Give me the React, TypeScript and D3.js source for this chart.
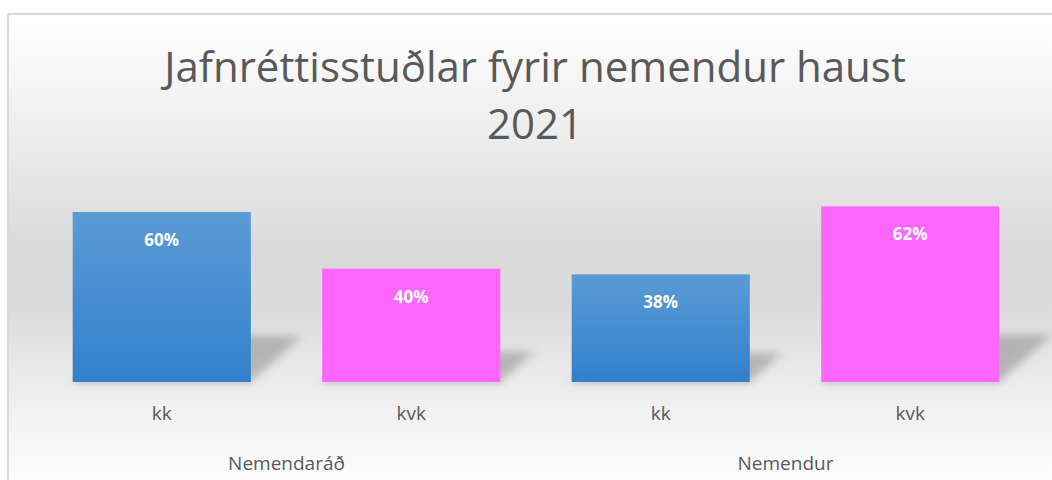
import { useEffect, useRef } from 'react';
import * as d3 from 'd3';

// chart data
const groups = ['Nemendaráð', 'Nemendur'];
const genders = ['kk', 'kvk'];
const values = [0.6, 0.4, 0.38, 0.62];
const titleLines = ['Jafnréttisstuðlar fyrir nemendur haust', '2021'];

const W = 1052;
const H = 480;

const App = () => {
    const ref = useRef<SVGSVGElement | null>(null);

    useEffect(() => {
        const svg = d3.select(ref.current);
        svg.selectAll('*').remove();

        const font = '"Open Sans", "Noto Sans", sans-serif';
        const defs = svg.append('defs');

        // chart area background
        const bg = defs.append('linearGradient')
            .attr('id', 'bg').attr('x1', 0).attr('y1', 0).attr('x2', 0).attr('y2', 1);
        [[0, '#ffffff'], [0.2, '#f1f1f1'], [0.5, '#d9d9d9'], [0.62, '#dcdcdc'], [0.8, '#efefef'], [1, '#ffffff']]
            .forEach(([o, c]) => bg.append('stop').attr('offset', o as number).attr('stop-color', c as string));

        const blue = defs.append('linearGradient')
            .attr('id', 'blue').attr('x1', 0).attr('y1', 0).attr('x2', 0).attr('y2', 1);
        blue.append('stop').attr('offset', 0).attr('stop-color', '#5b9bd6');
        blue.append('stop').attr('offset', 1).attr('stop-color', '#3280cb');

        defs.append('filter').attr('id', 'blur')
            .attr('x', -0.5).attr('y', -0.5).attr('width', 2).attr('height', 2)
            .append('feGaussianBlur').attr('stdDeviation', 4);

        svg.append('rect')
            .attr('x', 8).attr('y', 14).attr('width', W).attr('height', H)
            .attr('fill', 'url(#bg)')
            .attr('stroke', '#d9d9d9').attr('stroke-width', 2);

        // title
        svg.append('text')
            .attr('x', 535).attr('y', 0)
            .attr('text-anchor', 'middle')
            .attr('font-family', font).attr('font-size', 42)
            .attr('fill', '#595959')
            .selectAll('tspan').data(titleLines).join('tspan')
            .attr('x', 535).attr('y', (d, i) => 82 + i * 57)
            .text(d => d);

        const cats = groups.flatMap(g => genders.map(s => `${g}|${s}`));
        const x = d3.scaleBand().domain(cats).range([37, 1035]).paddingInner(0.286).paddingOuter(0.143);
        const baseline = 382;
        const y = d3.scaleLinear().domain([0, 1]).range([baseline, baseline - 283.3]);

        const data = cats.map((c, i) => ({ c, v: values[i], g: c.split('|')[0], s: c.split('|')[1] }));

        // perspective shadows
        svg.append('g').selectAll('path').data(data).join('path')
            .attr('d', d => {
                const x0 = x(d.c)!;
                const x1 = x0 + x.bandwidth();
                const h = baseline - y(d.v);
                const dx = h * 0.3;
                const dy = h * 0.27;
                return `M${x0},${baseline}L${x1},${baseline}L${x1 + dx},${baseline - dy}L${x0 + dx},${baseline - dy}Z`;
            })
            .attr('fill', '#8c8c8c')
            .attr('opacity', 0.55)
            .attr('filter', 'url(#blur)');

        svg.append('g').selectAll('rect.under').data(data).join('rect')
            .attr('x', d => x(d.c)!).attr('y', baseline - 1)
            .attr('width', x.bandwidth()).attr('height', 3)
            .attr('fill', '#bbbbbb').attr('opacity', 0.5)
            .attr('filter', 'url(#blur)');

        svg.append('g').selectAll('rect.bar').data(data).join('rect')
            .attr('x', d => x(d.c)!)
            .attr('y', d => y(d.v))
            .attr('width', x.bandwidth())
            .attr('height', d => baseline - y(d.v))
            .attr('fill', d => d.s === 'kk' ? 'url(#blue)' : '#ff66ff');

        // value labels
        svg.append('g').selectAll('text').data(data).join('text')
            .attr('x', d => x(d.c)! + x.bandwidth() / 2)
            .attr('y', d => y(d.v) + 34)
            .attr('text-anchor', 'middle')
            .attr('font-family', font).attr('font-size', 17).attr('font-weight', 'bold')
            .attr('fill', '#ffffff')
            .text(d => d3.format('.0%')(d.v));

        // category labels
        svg.append('g').selectAll('text').data(data).join('text')
            .attr('x', d => x(d.c)! + x.bandwidth() / 2)
            .attr('y', 420)
            .attr('text-anchor', 'middle')
            .attr('font-family', font).attr('font-size', 19)
            .attr('fill', '#595959')
            .text(d => d.s);

        svg.append('g').selectAll('text').data(groups).join('text')
            .attr('x', g => {
                const a = x(`${g}|${genders[0]}`)!;
                const b = x(`${g}|${genders[genders.length - 1]}`)! + x.bandwidth();
                return (a + b) / 2;
            })
            .attr('y', 470)
            .attr('text-anchor', 'middle')
            .attr('font-family', font).attr('font-size', 19)
            .attr('fill', '#595959')
            .text(g => g);
    }, []);

    return (
        <svg ref={ref} width={W} height={H}
            style={{ position: 'fixed', left: 0, top: 0, background: '#ffffff' }}></svg>
    );
};

export default App;
